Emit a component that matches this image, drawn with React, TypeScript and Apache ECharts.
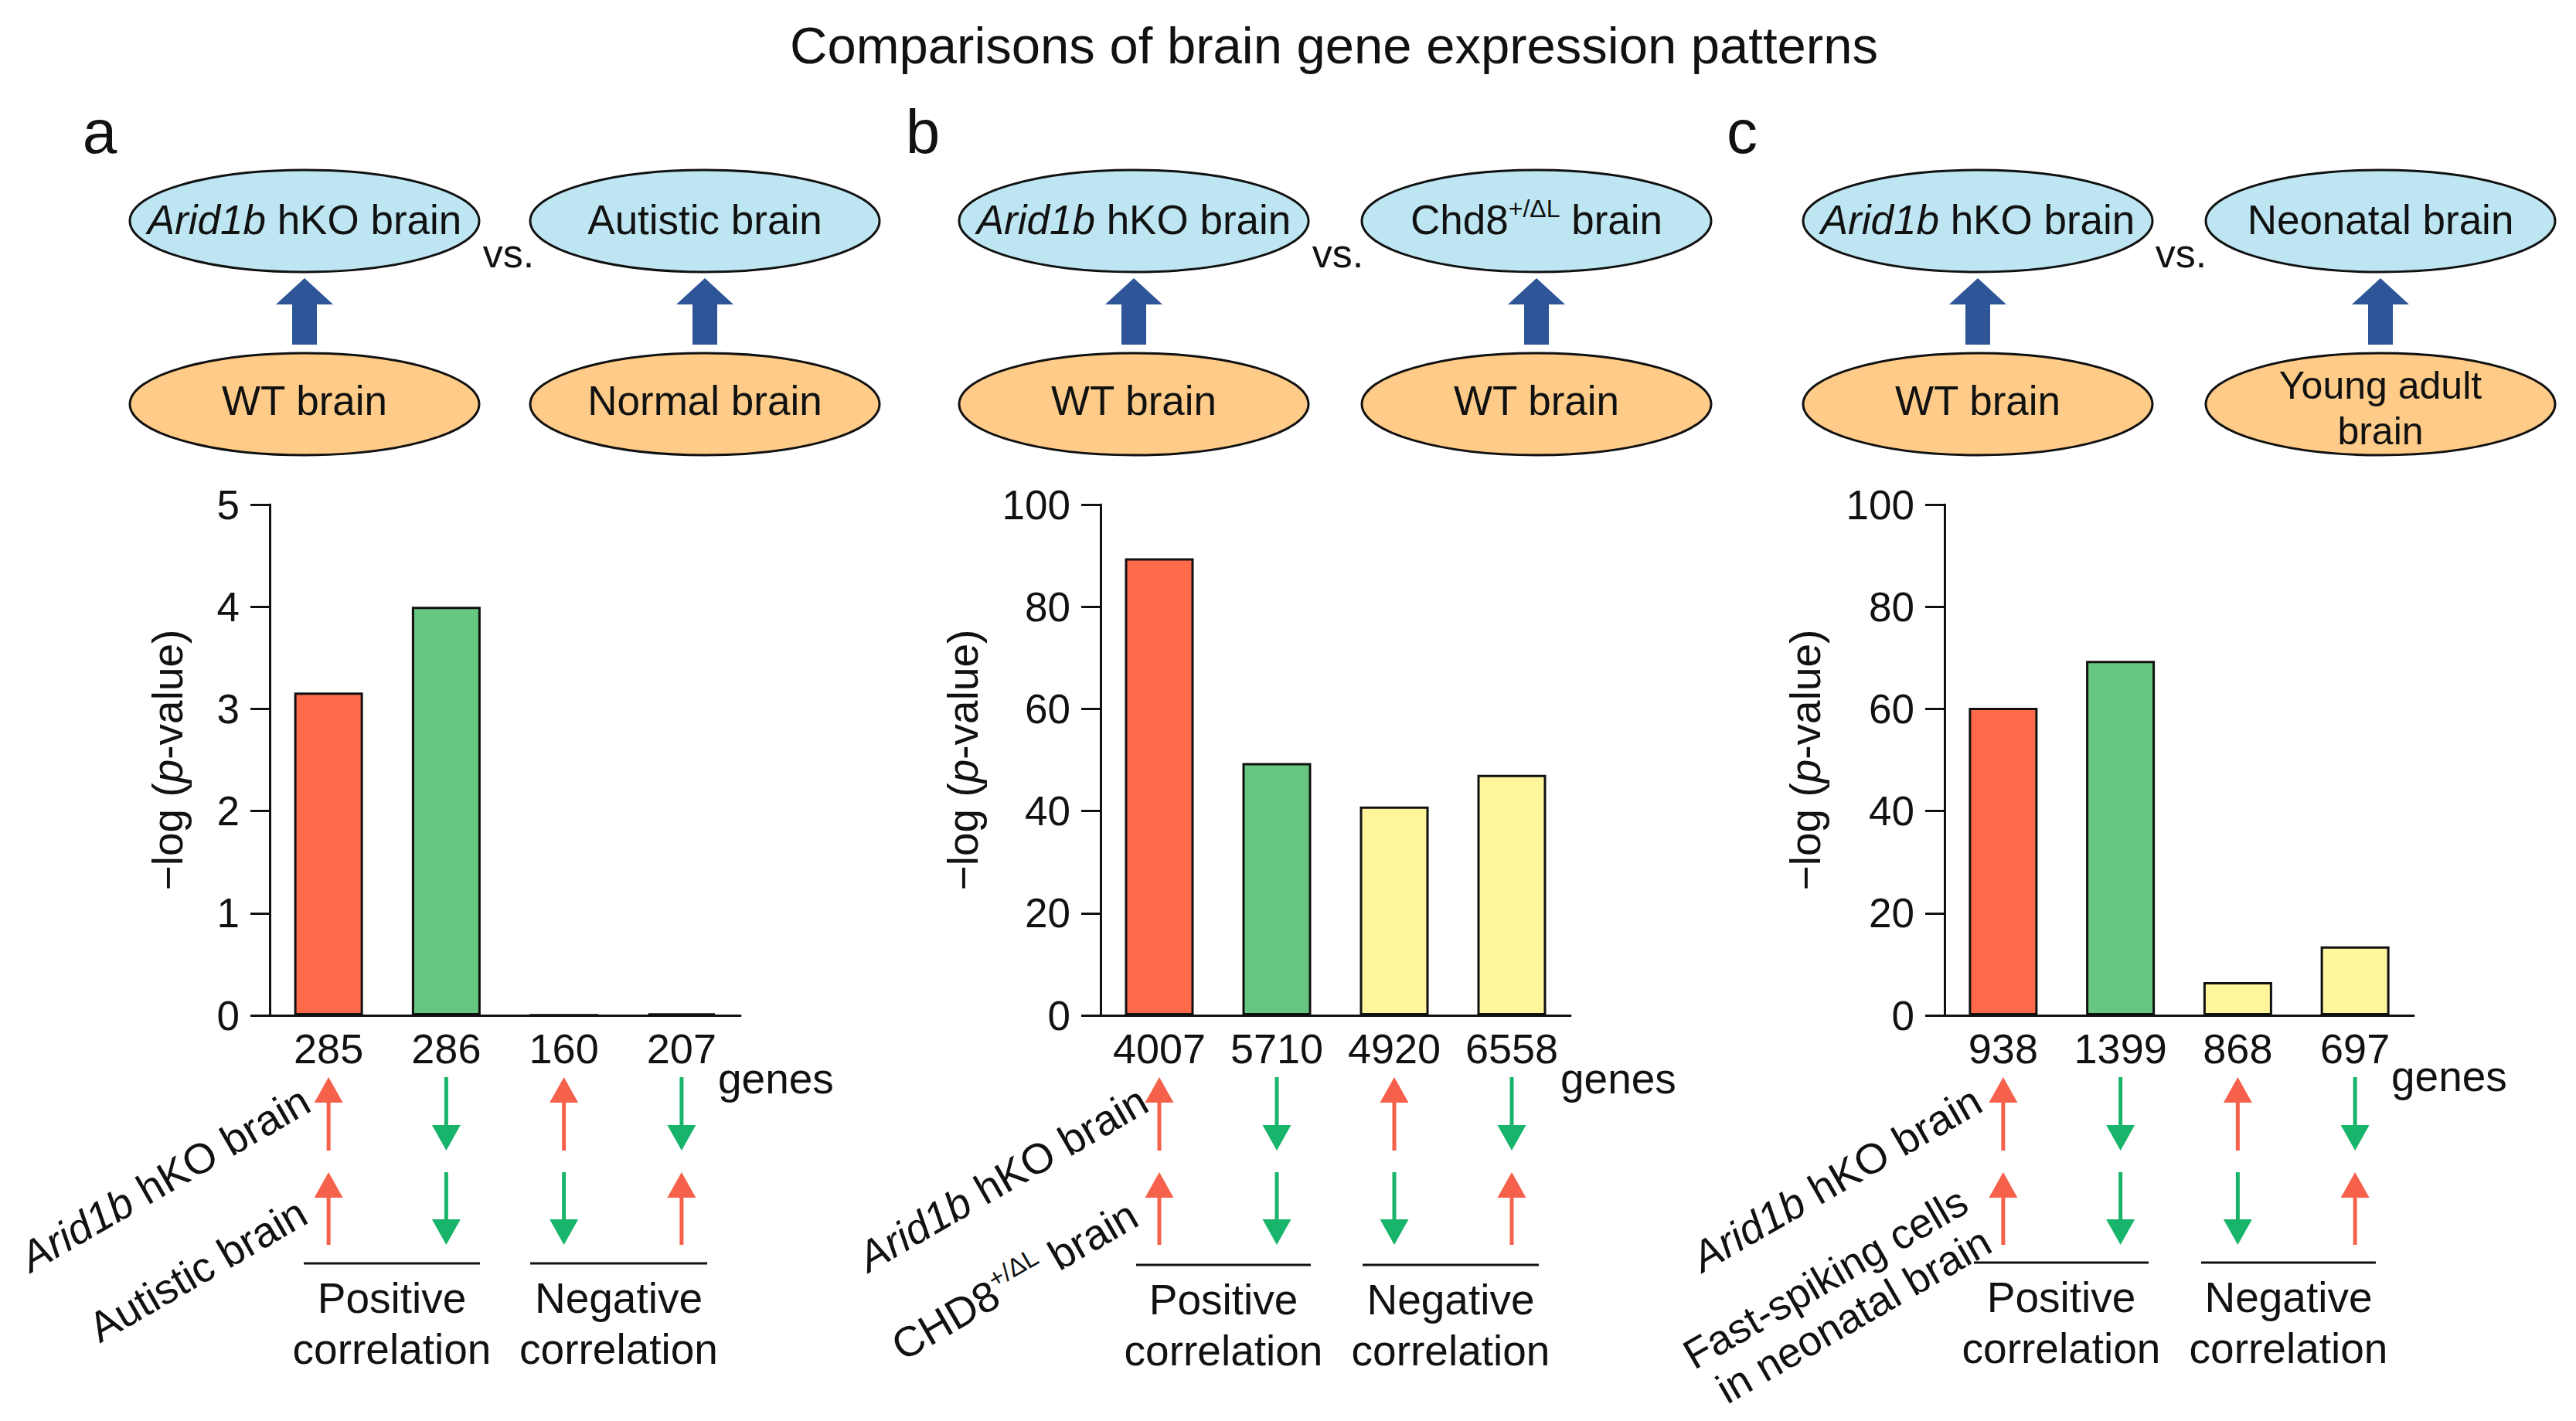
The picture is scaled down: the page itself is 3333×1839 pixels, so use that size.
import React, { useEffect, useRef } from "react";
import * as echarts from "echarts";

const FF = '"Liberation Sans", Arial, Helvetica, sans-serif';
const INK = "#111111";

// ---- data ----
const panelAGenes = ["285", "286", "160", "207"];
const panelAValues = [3.16, 4.0, 0.005, 0.02];
const panelBGenes = ["4007", "5710", "4920", "6558"];
const panelBValues = [89.5, 49.4, 40.9, 47.1];
const panelCGenes = ["938", "1399", "868", "697"];
const panelCValues = [60.2, 69.4, 6.5, 13.5];
const barColors = ["#FF6A4B", "#67C67F", "#FFF59B", "#FFF59B"];
const hkoDirection = [1, -1, 1, -1];
const referenceDirection = [1, -1, -1, 1];
const panelAMax = 5;
const panelAInterval = 1;
const panelBCMax = 100;
const panelBCInterval = 20;

const ARROW_RED = "#F5614A";
const ARROW_GREEN = "#19B46B";
const BLUE_FILL = "#BDE6F2";
const ORANGE_FILL = "#FECB88";
const BLUE_ARROW = "#2D5597";

const richSet = (size: number) => ({
  n: { fontSize: size, fontFamily: FF, color: INK, lineHeight: size * 1.15 },
  i: { fontSize: size, fontFamily: FF, color: INK, fontStyle: "italic", lineHeight: size * 1.15 },
  s: { fontSize: Math.round(size * 0.6), fontFamily: FF, color: INK, lineHeight: size * 0.8, verticalAlign: "top" },
});

function arrowShapes(x: number, y1: number, y2: number, dir: number) {
  const color = dir > 0 ? ARROW_RED : ARROW_GREEN;
  const hw = 18.5, hh = 33;
  if (dir > 0) {
    return [
      { type: "line", shape: { x1: x, y1: y1 + hh - 3, x2: x, y2: y2 }, style: { stroke: color, lineWidth: 5 } },
      { type: "polygon", shape: { points: [[x, y1], [x - hw, y1 + hh], [x + hw, y1 + hh]] }, style: { fill: color } },
    ];
  }
  return [
    { type: "line", shape: { x1: x, y1: y1, x2: x, y2: y2 - hh + 3 }, style: { stroke: color, lineWidth: 5 } },
    { type: "polygon", shape: { points: [[x - hw, y2 - hh], [x + hw, y2 - hh], [x, y2]] }, style: { fill: color } },
  ];
}

function buildOption() {
  const grids = [
    { left: 349, top: 653, width: 609, height: 661 },
    { left: 1424, top: 653, width: 608, height: 661 },
    { left: 2516, top: 653, width: 607, height: 661 },
  ];
  const genes = [panelAGenes, panelBGenes, panelCGenes];
  const values = [panelAValues, panelBValues, panelCValues];
  const maxes = [panelAMax, panelBCMax, panelBCMax];
  const intervals = [panelAInterval, panelBCInterval, panelBCInterval];
  const nameGaps = [100, 146, 148];

  const xAxis = genes.map((g, k) => ({
    type: "category",
    gridIndex: k,
    data: g,
    boundaryGap: true,
    axisLine: { show: true, lineStyle: { color: INK, width: 3 } },
    axisTick: { show: false },
    splitLine: { show: false },
    axisLabel: { show: true, color: INK, fontSize: 54, fontFamily: FF, margin: 16, interval: 0 },
  }));

  const yAxis = maxes.map((m, k) => ({
    type: "value",
    gridIndex: k,
    min: 0,
    max: m,
    interval: intervals[k],
    name: "{n|\u2212log (}{i|p}{n|-value)}",
    nameLocation: "middle",
    nameRotate: 90,
    nameGap: nameGaps[k],
    nameTextStyle: { fontSize: 55, fontFamily: FF, color: INK, rich: richSet(55) },
    axisLine: { show: true, lineStyle: { color: INK, width: 3 } },
    axisTick: { show: true, inside: false, length: 25, lineStyle: { color: INK, width: 3 } },
    splitLine: { show: false },
    axisLabel: { show: true, color: INK, fontSize: 53, fontFamily: FF, margin: 39 },
  }));

  const barSeries = values.map((v, k) => ({
    type: "bar",
    xAxisIndex: k,
    yAxisIndex: k,
    barWidth: 89,
    data: v.map((val, i) => ({
      value: val,
      itemStyle: { color: barColors[i], borderColor: INK, borderWidth: 3 },
    })),
    silent: true,
  }));

  const arrowData = hkoDirection.map((d, i) => [i, d, referenceDirection[i]]);
  const arrowSeries = [0, 1, 2].map((k) => ({
    type: "custom",
    xAxisIndex: k,
    yAxisIndex: k,
    clip: false,
    silent: true,
    encode: { x: 0, y: -1 },
    data: arrowData,
    renderItem: (params: any, api: any) => {
      const idx = api.value(0);
      const pt = api.coord([idx, 0]);
      const x = pt[0];
      const y0 = pt[1];
      return {
        type: "group",
        children: [
          ...arrowShapes(x, y0 + 80, y0 + 175, api.value(1)),
          ...arrowShapes(x, y0 + 203, y0 + 297, api.value(2)),
        ],
      };
    },
  }));

  const graphic: any[] = [];
  const txt = (x: number, y: number, text: string, size: number, extra: any = {}) => ({
    type: "text",
    x,
    y,
    rotation: extra.rotation || 0,
    silent: true,
    style: {
      text,
      fontSize: size,
      fontFamily: FF,
      fill: INK,
      align: extra.align || "center",
      textAlign: extra.align || "center",
      verticalAlign: "middle",
      textVerticalAlign: "middle",
      lineHeight: extra.lineHeight,
      rich: extra.rich,
    },
  });

  // title
  graphic.push(txt(1726, 58, "Comparisons of brain gene expression patterns", 67));
  // panel letters
  graphic.push(txt(129, 170, "a", 80));
  graphic.push(txt(1194, 170, "b", 80));
  graphic.push(txt(2254, 170, "c", 80));

  const ellipseCenters = [
    [394, 912],
    [1467, 1988],
    [2559, 3080],
  ];
  const topTexts = [
    ["{i|Arid1b}{n| hKO brain}", "{n|Autistic brain}"],
    ["{i|Arid1b}{n| hKO brain}", "{n|Chd8}{s|+/\u0394L}{n| brain}"],
    ["{i|Arid1b}{n| hKO brain}", "{n|Neonatal brain}"],
  ];
  const bottomTexts = [
    [["WT brain"], ["Normal brain"]],
    [["WT brain"], ["WT brain"]],
    [["WT brain"], ["Young adult", "brain"]],
  ];
  const vsX = [658, 1731, 2822];
  ellipseCenters.forEach((pair, k) => {
    pair.forEach((cx, j) => {
      graphic.push({ type: "ellipse", silent: true, shape: { cx, cy: 286, rx: 226, ry: 66 }, style: { fill: BLUE_FILL, stroke: INK, lineWidth: 3 } });
      graphic.push({ type: "ellipse", silent: true, shape: { cx, cy: 523, rx: 226, ry: 66 }, style: { fill: ORANGE_FILL, stroke: INK, lineWidth: 3 } });
      graphic.push({ type: "rect", silent: true, shape: { x: cx - 16, y: 392, width: 32, height: 54 }, style: { fill: BLUE_ARROW } });
      graphic.push({ type: "polygon", silent: true, shape: { points: [[cx, 360], [cx - 37, 394], [cx + 37, 394]] }, style: { fill: BLUE_ARROW } });
      graphic.push(txt(cx, 284, topTexts[k][j], 53, { rich: richSet(53) }));
      const lines = bottomTexts[k][j];
      if (lines.length === 1) {
        graphic.push(txt(cx, 518, lines[0], 53));
      } else {
        graphic.push(txt(cx, 499, lines[0], 50, { lineHeight: 50 }));
        graphic.push(txt(cx, 558, lines[1], 50, { lineHeight: 50 }));
      }
    });
    graphic.push(txt(vsX[k], 328, "vs.", 52));
  });

  // rotated row labels
  const rot = Math.PI / 6;
  const r55 = richSet(55);
  graphic.push(txt(396, 1420, "{i|Arid1b}{n| hKO brain}", 55, { align: "right", rotation: rot, rich: r55 }));
  graphic.push(txt(392, 1565, "{n|Autistic brain}", 55, { align: "right", rotation: rot, rich: r55 }));
  graphic.push(txt(1480, 1420, "{i|Arid1b}{n| hKO brain}", 55, { align: "right", rotation: rot, rich: r55 }));
  graphic.push(txt(1467, 1568, "{n|CHD8}{s|+/\u0394L}{n| brain}", 55, { align: "right", rotation: rot, rich: r55 }));
  graphic.push(txt(2559, 1420, "{i|Arid1b}{n| hKO brain}", 55, { align: "right", rotation: rot, rich: r55 }));
  graphic.push(txt(2556, 1576, "Fast-spiking cells\nin neonatal brain", 54, { align: "right", rotation: rot, lineHeight: 60 }));

  // genes labels
  graphic.push(txt(929, 1396, "genes", 55, { align: "left" }));
  graphic.push(txt(2019, 1396, "genes", 55, { align: "left" }));
  graphic.push(txt(3094, 1393, "genes", 55, { align: "left" }));

  // brackets
  const brackets = [
    [393, 621, 686, 915, 1635],
    [1470, 1696, 1763, 1991, 1637],
    [2554, 2780, 2848, 3074, 1634],
  ];
  brackets.forEach(([p1, p2, n1, n2, y]) => {
    graphic.push({ type: "line", silent: true, shape: { x1: p1, y1: y, x2: p2, y2: y }, style: { stroke: INK, lineWidth: 3 } });
    graphic.push({ type: "line", silent: true, shape: { x1: n1, y1: y, x2: n2, y2: y }, style: { stroke: INK, lineWidth: 3 } });
    graphic.push(txt((p1 + p2) / 2, y + 45, "Positive", 55));
    graphic.push(txt((p1 + p2) / 2, y + 111, "correlation", 55));
    graphic.push(txt((n1 + n2) / 2, y + 45, "Negative", 55));
    graphic.push(txt((n1 + n2) / 2, y + 111, "correlation", 55));
  });

  return {
    animation: false,
    backgroundColor: "#ffffff",
    textStyle: { fontFamily: FF },
    grid: grids,
    xAxis,
    yAxis,
    series: [...barSeries, ...arrowSeries],
    graphic: { elements: graphic },
  };
}

export default function App() {
  const ref = useRef<HTMLDivElement | null>(null);
  useEffect(() => {
    if (!ref.current) return;
    const chart = echarts.init(ref.current, null, { renderer: "svg" });
    chart.setOption(buildOption() as any);
    return () => chart.dispose();
  }, []);
  return (
    <div
      ref={ref}
      style={{ position: "fixed", left: 0, top: 0, width: 3333, height: 1839, background: "#ffffff" }}
    />
  );
}
